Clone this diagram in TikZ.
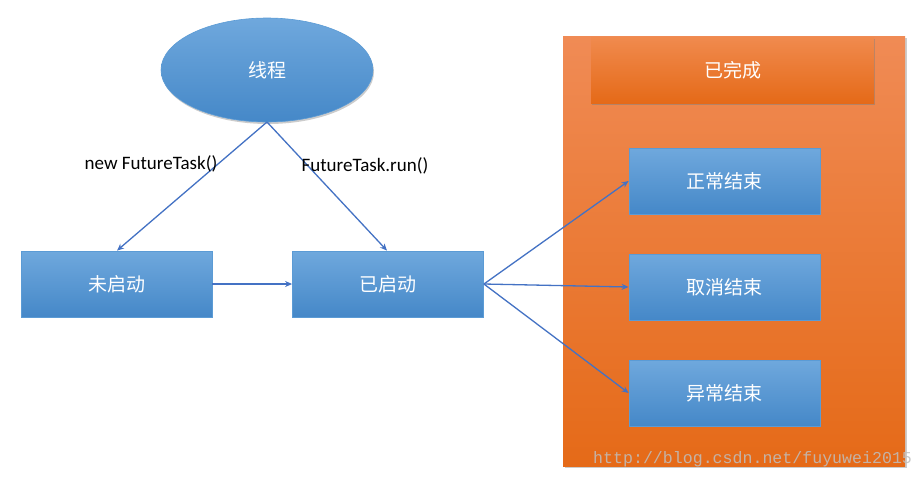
\documentclass[tikz,border=0pt]{standalone}
\usepackage{fontspec}
\setmainfont{Carlito}
\setmonofont{Liberation Mono}
\newfontfamily\cjk{Noto Sans CJK SC}
\usetikzlibrary{shapes.geometric,arrows.meta,shadows}
\definecolor{bluetop}{HTML}{6FA8DD}
\definecolor{bluebot}{HTML}{4588C8}
\definecolor{blueedge}{HTML}{5B9BD5}
\definecolor{orgtop}{HTML}{F08B55}
\definecolor{orgbot}{HTML}{E56A18}
\definecolor{orgtop2}{HTML}{F08A4E}
\definecolor{arrowc}{HTML}{4472C4}
\tikzset{
  cjkfont/.style={font=\cjk\fontsize{19}{22}\selectfont},
  bluebox/.style={rectangle, draw=blueedge, line width=0.8pt, top color=bluetop, bottom color=bluebot,
    minimum width=191pt, minimum height=66pt, inner sep=0pt, text=white, cjkfont},
  conn/.style={draw=arrowc, line width=1.3pt, -{Stealth[length=7pt,width=6pt]}},
  lbl/.style={font=\fontsize{19}{22}\selectfont, text=black, inner sep=0pt}
}
\begin{document}
\begin{tikzpicture}[x=1pt,y=-1pt]
\useasboundingbox (0,0) rectangle (924,480);
\fill[white] (0,0) rectangle (924,480);
% orange panel
\fill[gray!40] (565,38) rectangle (907,468);
\node[rectangle, top color=orgtop, bottom color=orgbot, minimum width=342pt, minimum height=430pt, inner sep=0pt] (panel) at (734,251) {};
\node[rectangle, top color=orgtop2, bottom color=orgbot, minimum width=283pt, minimum height=66pt, inner sep=0pt,
  drop shadow={shadow xshift=1pt, shadow yshift=-2pt, opacity=0.5},
  text=white, cjkfont] (done) at (732.5,70) {已完成};
% ellipse
\node[ellipse, draw=blueedge, line width=0.6pt, top color=bluetop, bottom color=bluebot, minimum width=212pt, minimum height=104pt,
  inner sep=0pt, drop shadow={shadow xshift=1pt, shadow yshift=-2pt, opacity=0.4},
  text=white, cjkfont] (thread) at (267,70) {线程};
% boxes
\node[bluebox] (notstarted) at (116.5,284) {未启动};
\node[bluebox] (started) at (388,284) {已启动};
\node[bluebox] (normal) at (724.5,181) {正常结束};
\node[bluebox] (cancel) at (724.5,287) {取消结束};
\node[bluebox] (error) at (724.5,393) {异常结束};
% arrows
\coordinate (tb) at (267,122);
\draw[conn] (tb) -- ([xshift=0.5pt]notstarted.north);
\draw[conn] (tb) -- ([xshift=-1pt]started.north);
\draw[conn] (notstarted.east) -- (started.west);
\draw[conn] (started.east) -- (normal.west);
\draw[conn] (started.east) -- (cancel.west);
\draw[conn] (started.east) -- (error.west);
% labels
\node[lbl] (l1) at (151,164) {new FutureTask()};
\node[lbl] (l2) at (365,166) {FutureTask.run()};
% watermark
\node[font=\ttfamily\fontsize{16.6}{19}\selectfont, text=gray!50, opacity=0.85, anchor=west, inner sep=0pt] (wm) at (593,459) {http://blog.csdn.net/fuyuwei2015};
\end{tikzpicture}
\end{document}
